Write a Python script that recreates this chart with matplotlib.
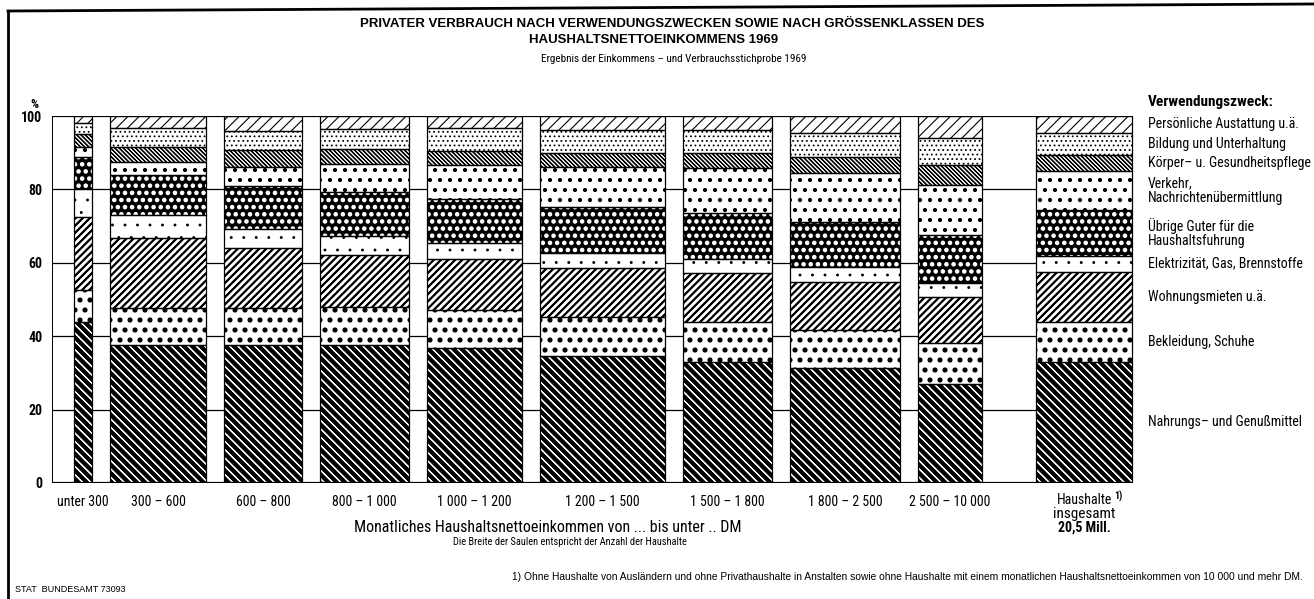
import numpy as np
import matplotlib
matplotlib.use("Agg")
import matplotlib.pyplot as plt
import matplotlib.hatch as mhatch
from matplotlib.path import Path
from matplotlib import font_manager as fm
from matplotlib.lines import Line2D
from matplotlib.transforms import blended_transform_factory

# ---------------- data ----------------
income_classes = ["unter 300", "300 – 600", "600 – 800", "800 – 1 000", "1 000 – 1 200",
                  "1 200 – 1 500", "1 500 – 1 800", "1 800 – 2 500", "2 500 – 10 000"]
# width of the columns = number of households (Mill.), total 20,5 Mill.
households_mill = [0.48, 2.58, 2.09, 2.39, 2.55, 3.35, 2.39, 2.95, 1.72]

# shares in % (9 income classes + "Haushalte insgesamt"), bottom to top
nahrung     = [44.0, 37.6, 37.6, 37.6, 36.7, 34.6, 33.1, 31.2, 26.9, 33.1]
bekleidung  = [8.6, 10.1, 10.0, 10.3, 10.4, 10.7, 10.9, 10.6, 11.2, 10.9]
wohnung     = [20.0, 19.1, 16.3, 14.2, 13.9, 13.2, 13.1, 13.1, 12.7, 13.6]
elektr      = [7.4, 6.2, 5.3, 5.2, 4.5, 4.3, 3.9, 4.0, 3.7, 4.3]
uebrige     = [8.9, 10.9, 11.7, 12.1, 11.9, 12.3, 12.5, 12.1, 13.1, 12.5]
verkehr     = [2.6, 3.6, 5.3, 7.5, 9.2, 11.1, 12.2, 13.4, 13.6, 10.7]
koerper     = [3.6, 4.1, 4.5, 4.0, 3.9, 3.8, 4.3, 4.5, 5.4, 4.3]
bildung     = [3.1, 5.1, 5.3, 5.5, 6.1, 6.2, 6.2, 6.6, 7.3, 6.1]
persoenlich = [1.8, 3.3, 4.0, 3.6, 3.4, 3.8, 3.8, 4.5, 6.1, 4.5]

legend_labels = ["Nahrungs– und Genußmittel", "Bekleidung, Schuhe", "Wohnungsmieten u.ä.",
                 "Elektrizität, Gas, Brennstoffe", "Übrige Guter für die\nHaushaltsfuhrung",
                 "Verkehr,\nNachrichtenübermittlung", "Körper– u. Gesundheitspflege",
                 "Bildung und Unterhaltung", "Persönliche Austattung u.ä."]
y_ticks = [0, 20, 40, 60, 80, 100]

series = [nahrung, bekleidung, wohnung, elektr, uebrige, verkehr, koerper, bildung, persoenlich]

# ---------------- custom hatch patterns (texture density / dot size / line weight) ----------------
# dots: rows per inch (even) and relative dot radius
DOT_STYLES = {1: (8, 0.07), 2: (10, 0.2), 3: (14, 0.24), 4: (10, 0.15), 5: (22, 0.09)}
# lines: number of lines per cell (even) and parallel copies (offsets in cell units) for weight
NE_STYLES = {1: (18, [0.0]), 2: (28, [0.0, 0.008, 0.015])}
SE_STYLES = {1: (24, [0.0, 0.004]), 2: (48, [0.0, 0.005])}


class Dots(mhatch.Circles):
    filled = True

    def __init__(self, hatch, density):
        rows, size = DOT_STYLES.get(hatch.count("."), (0, 0.1))
        self.num_rows = rows
        self.size = size
        super().__init__(hatch, density)


class _Lines(mhatch.HatchPatternBase):
    char = "/"
    table = {}
    rising = True

    def __init__(self, hatch, density):
        n, offs = self.table.get(hatch.count(self.char), (0, [0.0]))
        self.num_lines = n
        self.offs = offs
        self.num_vertices = (n + 1) * 2 * len(offs) if n else 0

    def set_vertices_and_codes(self, vertices, codes):
        steps = np.linspace(-0.5, 0.5, self.num_lines + 1)
        m = (self.num_lines + 1) * 2
        for k, d in enumerate(self.offs):
            v = vertices[k * m:(k + 1) * m]
            c = codes[k * m:(k + 1) * m]
            if self.rising:
                v[0::2, 0] = 0.0 + steps + d
                v[0::2, 1] = 0.0 - steps
                v[1::2, 0] = 1.0 + steps + d
                v[1::2, 1] = 1.0 - steps
            else:
                v[0::2, 0] = 0.0 + steps + d
                v[0::2, 1] = 1.0 + steps
                v[1::2, 0] = 1.0 + steps + d
                v[1::2, 1] = 0.0 + steps
            c[0::2] = Path.MOVETO
            c[1::2] = Path.LINETO


class NE(_Lines):
    char = "/"
    table = NE_STYLES
    rising = True


class SE(_Lines):
    char = "\\"
    table = SE_STYLES
    rising = False


mhatch._hatch_types = [mhatch.HorizontalHatch, mhatch.VerticalHatch, NE, SE,
                       mhatch.SmallCircles, mhatch.LargeCircles, Dots, mhatch.Stars]

# face, hatch colour, hatch
styles = [
    ("black", "white", "\\"),     # Nahrung
    ("white", "black", ".."),     # Bekleidung
    ("white", "black", "//"),     # Wohnung
    ("white", "black", "."),      # Elektrizität
    ("black", "white", "..."),    # Übrige
    ("white", "black", "...."),   # Verkehr
    ("white", "black", "\\\\"),   # Körper
    ("white", "black", "....."),  # Bildung
    ("white", "black", "/"),      # Persönliche
]

# ---------------- fonts ----------------
names = {f.name for f in fm.fontManager.ttflist}
NARROW = None
for cand in ["Liberation Sans Narrow", "Roboto Condensed", "Open Sans Condensed", "DejaVu Sans Condensed"]:
    if cand in names:
        NARROW = cand
        break
stretch = "normal"
if NARROW is None:
    if any(f.name == "DejaVu Sans" and f.stretch == "condensed" for f in fm.fontManager.ttflist):
        NARROW = "DejaVu Sans"
        stretch = "condensed"
    else:
        NARROW = "Liberation Sans"
WIDE = "Liberation Sans" if "Liberation Sans" in names else "DejaVu Sans"
plt.rcParams["font.family"] = [NARROW, "DejaVu Sans"]
plt.rcParams["font.stretch"] = stretch
plt.rcParams["hatch.linewidth"] = 0.8

# ---------------- layout ----------------
W, H = 1314, 599
fig = plt.figure(figsize=(W / 100, H / 100), dpi=100)
fig.patch.set_facecolor("white")


def fx(px):
    return px / W


def fy(py):
    return 1 - py / H


PX_PER_UNIT = 37.27
AX_L, AX_R, AX_T, AX_B = 52, 1140, 116, 483
LEFT_GAP = 0.59
GAP = 0.483
TOTAL_GAP = 1.45
TOTAL_W = 2.58

ax = fig.add_axes([fx(AX_L), fy(AX_B), (AX_R - AX_L) / W, (AX_B - AX_T) / H])
ax.set_xlim(0, (AX_R - AX_L) / PX_PER_UNIT)
ax.set_ylim(0, 100)
for s in ax.spines.values():
    s.set_visible(False)
ax.set_xticks([])
ax.set_yticks(y_ticks)
ax.set_yticklabels([str(v) for v in y_ticks], fontweight="bold")
ax.tick_params(axis="y", length=0, pad=7, labelsize=10)
ax.patch.set_alpha(0)

lefts = []
x = LEFT_GAP
for w in households_mill:
    lefts.append(x)
    x += w + GAP
total_left = x - GAP + TOTAL_GAP
all_lefts = lefts + [total_left]
all_widths = households_mill + [TOTAL_W]

# frame and grid
ax.hlines([20, 40, 60, 80], 0, total_left, color="black", lw=0.9, zorder=0)
ax.hlines([0, 100], 0, total_left + TOTAL_W, color="black", lw=1.6, zorder=5)
ax.vlines(0, 0, 100, color="black", lw=1.4, zorder=5)

bottom = np.zeros(len(all_lefts))
for vals, (face, hc, hatch) in zip(series, styles):
    vals = np.array(vals, dtype=float)
    ax.bar(all_lefts, vals, width=all_widths, bottom=bottom, align="edge",
           color=face, edgecolor=hc, linewidth=0, hatch=hatch, zorder=2)
    ax.bar(all_lefts, vals, width=all_widths, bottom=bottom, align="edge",
           fill=False, edgecolor="black", linewidth=0.9, zorder=3)
    bottom += vals

# legend texts at the centres of the total column's segments
tot = np.array([s[-1] for s in series])
centres = np.cumsum(tot) - tot / 2
trans_leg = blended_transform_factory(fig.transFigure, ax.transData)
for lab, c in zip(legend_labels, centres):
    ax.text(fx(1148), c, lab, transform=trans_leg, ha="left", va="center",
            fontsize=10, linespacing=1.05)
fig.text(fx(1148), fy(102), "Verwendungszweck:", ha="left", va="center", fontsize=11, fontweight="bold")

# category labels
trans_x = blended_transform_factory(ax.transData, fig.transFigure)
for lab, l, w in zip(income_classes, lefts, households_mill):
    ax.text(l + w / 2, fy(502), lab, transform=trans_x, ha="center", va="center", fontsize=10)
tc = total_left + TOTAL_W / 2
ax.text(tc, fy(500), "Haushalte", transform=trans_x, ha="center", va="center", fontsize=10)
ax.text(tc + 0.8, fy(496), "1)", transform=trans_x, ha="left", va="center", fontsize=7, fontweight="bold")
ax.text(tc, fy(514), "insgesamt", transform=trans_x, ha="center", va="center", fontsize=11)
ax.text(tc, fy(528), "20,5 Mill.", transform=trans_x, ha="center", va="center", fontsize=10, fontweight="bold")

fig.text(fx(548), fy(528), "Monatliches Haushaltsnettoeinkommen von ... bis unter .. DM",
         ha="center", va="center", fontsize=11.5)
fig.text(fx(570), fy(542), "Die Breite der Saulen entspricht der Anzahl der Haushalte",
         ha="center", va="center", fontsize=7.5)

# y axis unit
fig.text(fx(34), fy(104), "%", ha="center", va="center", fontsize=9, fontweight="bold")

# titles
fig.text(fx(672), fy(24), "PRIVATER VERBRAUCH NACH VERWENDUNGSZWECKEN SOWIE NACH GRÖSSENKLASSEN DES",
         ha="center", va="center", fontsize=9.5, fontweight="bold", family=[WIDE, "DejaVu Sans"])
fig.text(fx(654), fy(40), "HAUSHALTSNETTOEINKOMMENS 1969",
         ha="center", va="center", fontsize=9.5, fontweight="bold", family=[WIDE, "DejaVu Sans"])
fig.text(fx(674), fy(59), "Ergebnis der Einkommens – und Verbrauchsstichprobe 1969",
         ha="center", va="center", fontsize=8)

# footnote and source
fig.text(fx(1303), fy(577),
         "1) Ohne Haushalte von Ausländern und ohne Privathaushalte in Anstalten sowie ohne Haushalte "
         "mit einem monatlichen Haushaltsnettoeinkommen von 10 000 und mehr DM.",
         ha="right", va="center", fontsize=7.4, family=[WIDE, "DejaVu Sans"])
fig.text(fx(15), fy(590), "STAT  BUNDESAMT 73093", ha="left", va="center", fontsize=6.5,
         family=[WIDE, "DejaVu Sans"])

# outer frame (top and left)
fig.add_artist(Line2D([fx(8), 1.0], [fy(11), fy(4)], color="black", lw=2))
fig.add_artist(Line2D([fx(8), fx(8)], [fy(11), 0.0], color="black", lw=2))

fig.savefig("out.png", dpi=100, facecolor="white")
